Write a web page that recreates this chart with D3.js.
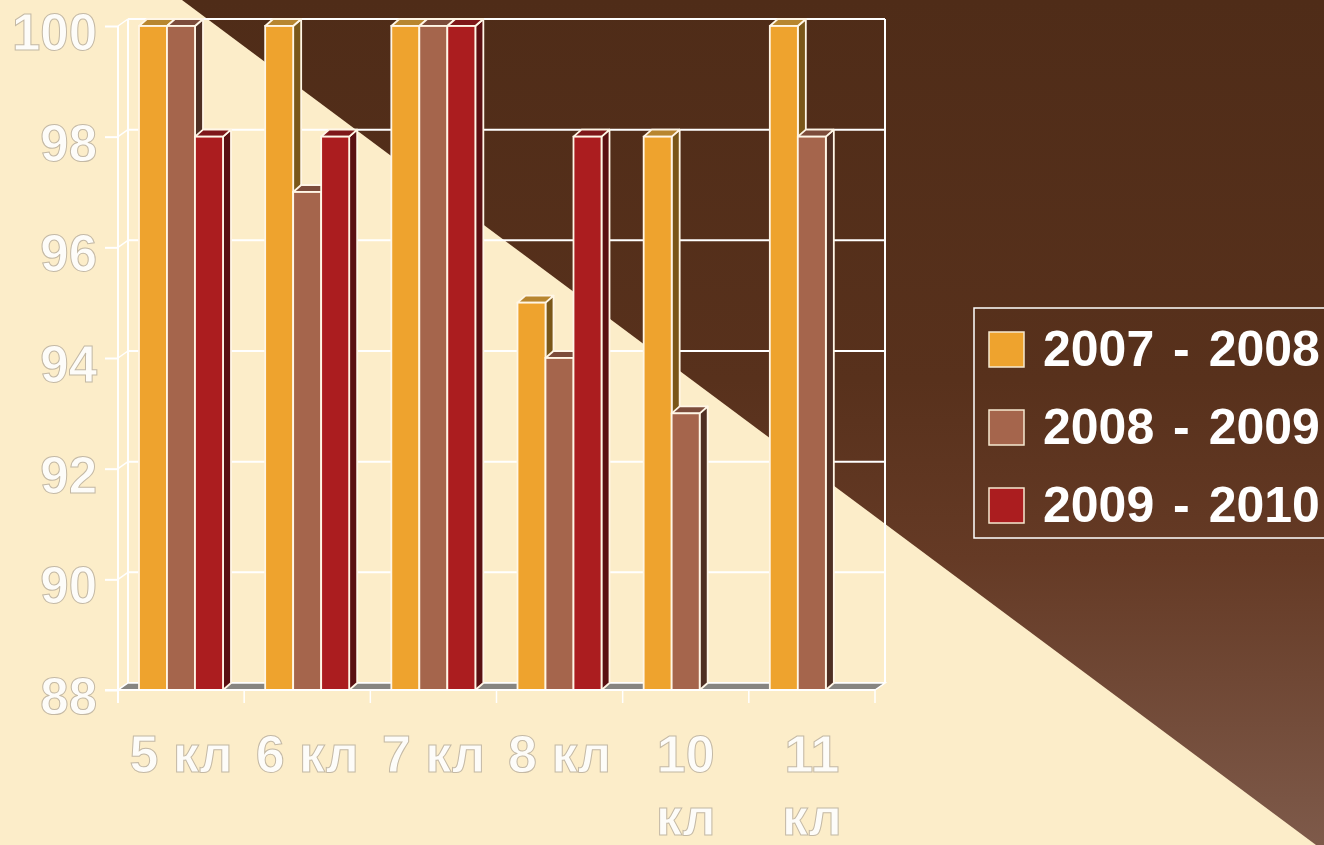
<!DOCTYPE html>
<html>
<head>
<meta charset="utf-8">
<script src="https://cdn.jsdelivr.net/npm/d3@7"></script>
<style>
    html, body { margin: 0; padding: 0; overflow: hidden; background: #fcedc9; }
    #chart { width: 1324px; height: 845px; }
    text { font-family: 'Liberation Sans', Arial, sans-serif; font-weight: bold; }
</style>
</head>
<body>
<div id="chart"></div>
<script>
// Chart data
const categories = ['5 кл', '6 кл', '7 кл', '8 кл', '10 кл', '11 кл'];
const seriesNames = ['2007 - 2008', '2008 - 2009', '2009 - 2010'];
const values2007 = [100, 100, 100, 95, 98, 100];
const values2008 = [100, 97, 100, 94, 93, 98];
const values2009 = [98, 98, 100, 98, null, null];
const yTicks = [88, 90, 92, 94, 96, 98, 100];

class BarChart3D {
    constructor() {
        this.width = 1324;
        this.height = 845;
        this.colors = {
            '2007 - 2008': { front: '#eea32e', top: '#b8862f', side: '#7a5719' },
            '2008 - 2009': { front: '#a5654c', top: '#7c4c3b', side: '#4f2f23' },
            '2009 - 2010': { front: '#ab1d1f', top: '#7e1719', side: '#5a1012' }
        };
        this.render();
    }

    render() {
        const svg = d3.select('#chart')
            .append('svg')
            .attr('width', this.width)
            .attr('height', this.height);

        this.drawBackground(svg);

        // Scales
        const x = d3.scaleBand().domain(categories).range([118, 875]);
        const xs = d3.scaleBand().domain(seriesNames).range([21, 21 + 3 * 28]);
        const y = d3.scaleLinear().domain([88, 100]).range([690, 26]);

        const wdx = 10, wdy = -7;   // wall depth
        const bdx = 8, bdy = -7;    // bar depth
        const left = x.range()[0], right = x.range()[1];
        const line = '#ffffff';

        // Back wall gridlines
        svg.append('g').selectAll('line')
            .data(yTicks)
            .enter()
            .append('line')
            .attr('x1', left + wdx)
            .attr('x2', right + wdx)
            .attr('y1', d => y(d) + wdy)
            .attr('y2', d => y(d) + wdy)
            .attr('stroke', line)
            .attr('stroke-width', 2);

        // Back wall right edge
        svg.append('line')
            .attr('x1', right + wdx).attr('x2', right + wdx)
            .attr('y1', y(100) + wdy).attr('y2', y(88) + wdy)
            .attr('stroke', line).attr('stroke-width', 2);

        // Side wall
        svg.append('line')
            .attr('x1', left + wdx).attr('x2', left + wdx)
            .attr('y1', y(100) + wdy).attr('y2', y(88) + wdy)
            .attr('stroke', line).attr('stroke-width', 2);
        svg.append('g').selectAll('line')
            .data(yTicks)
            .enter()
            .append('line')
            .attr('x1', left).attr('x2', left + wdx)
            .attr('y1', d => y(d)).attr('y2', d => y(d) + wdy)
            .attr('stroke', line).attr('stroke-width', 1.5);

        // Floor
        svg.append('path')
            .attr('d', `M${left},${y(88)} L${right},${y(88)} L${right + wdx},${y(88) + wdy} L${left + wdx},${y(88) + wdy} Z`)
            .attr('fill', '#878581')
            .attr('stroke', line)
            .attr('stroke-width', 1.5);

        // Bars
        const seriesValues = [values2007, values2008, values2009];
        const bars = [];
        categories.forEach((cat, ci) => {
            seriesNames.forEach((s, si) => {
                const v = seriesValues[si][ci];
                if (v == null) return;
                bars.push({ cat, series: s, value: v });
            });
        });

        const barGroups = svg.append('g').selectAll('g')
            .data(bars)
            .enter()
            .append('g');

        const bw = xs.bandwidth();
        const x0 = d => x(d.cat) + xs(d.series);
        const y0 = y(88);

        // Side face
        barGroups.append('path')
            .attr('d', d => {
                const xr = x0(d) + bw, yt = y(d.value);
                return `M${xr},${y0} L${xr},${yt} L${xr + bdx},${yt + bdy} L${xr + bdx},${y0 + bdy} Z`;
            })
            .attr('fill', d => this.colors[d.series].side)
            .attr('stroke', '#fff6e6')
            .attr('stroke-width', 1.8)
            .attr('stroke-linejoin', 'round');

        // Top face
        barGroups.append('path')
            .attr('d', d => {
                const xl = x0(d), yt = y(d.value);
                return `M${xl},${yt} L${xl + bw},${yt} L${xl + bw + bdx},${yt + bdy} L${xl + bdx},${yt + bdy} Z`;
            })
            .attr('fill', d => this.colors[d.series].top)
            .attr('stroke', '#fff6e6')
            .attr('stroke-width', 1.8)
            .attr('stroke-linejoin', 'round');

        // Front face
        barGroups.append('rect')
            .attr('x', d => x0(d))
            .attr('y', d => y(d.value))
            .attr('width', bw)
            .attr('height', d => y0 - y(d.value))
            .attr('fill', d => this.colors[d.series].front)
            .attr('stroke', '#fff6e6')
            .attr('stroke-width', 1.8);

        // Y axis
        const yAxis = svg.append('g')
            .attr('transform', `translate(${left},0)`)
            .call(d3.axisLeft(y).tickValues(yTicks).tickSize(13).tickSizeOuter(0).tickPadding(8));
        yAxis.select('.domain').remove();
        yAxis.selectAll('line').attr('stroke', line).attr('stroke-width', 2);
        yAxis.selectAll('text')
            .attr('dy', '0.46em')
            .style('font-size', '51px')
            .attr('fill', '#fdfcf9')
            .attr('stroke', '#c4b9a5')
            .attr('stroke-width', 1);
        svg.append('line')
            .attr('x1', left).attr('x2', left)
            .attr('y1', y(100)).attr('y2', y(88) + 13)
            .attr('stroke', line).attr('stroke-width', 2);

        // X axis baseline and boundary ticks
        svg.append('line')
            .attr('x1', left - 13).attr('x2', right)
            .attr('y1', y0).attr('y2', y0)
            .attr('stroke', line).attr('stroke-width', 2);
        const bounds = categories.map(c => x(c)).concat([right]);
        svg.append('g').selectAll('line')
            .data(bounds)
            .enter()
            .append('line')
            .attr('x1', d => d).attr('x2', d => d)
            .attr('y1', y0).attr('y2', y0 + 13)
            .attr('stroke', line).attr('stroke-width', 1.5);

        // X labels (wrap the ones wider than their band)
        const xAxis = svg.append('g')
            .attr('transform', `translate(0,${y0})`)
            .call(d3.axisBottom(x).tickSize(0).tickPadding(45));
        xAxis.select('.domain').remove();
        xAxis.selectAll('text')
            .style('font-size', '52px')
            .attr('fill', '#fdfcf9')
            .attr('stroke', '#c4b9a5')
            .attr('stroke-width', 1)
            .each(function (d) {
                const t = d3.select(this);
                if (this.getComputedTextLength() > x.bandwidth() - 4) {
                    const words = d.split(' ');
                    t.text(null);
                    words.forEach((w, i) => {
                        t.append('tspan')
                            .attr('x', 0)
                            .attr('dy', i === 0 ? '0.71em' : 63)
                            .text(w);
                    });
                }
            });

        this.drawLegend(svg);
    }

    drawBackground(svg) {
        const grad = svg.append('defs')
            .append('linearGradient')
            .attr('id', 'bgGrad')
            .attr('x1', 0).attr('y1', 0).attr('x2', 0).attr('y2', 1);
        grad.append('stop').attr('offset', '0%').attr('stop-color', '#4f2c18');
        grad.append('stop').attr('offset', '45%').attr('stop-color', '#58311c');
        grad.append('stop').attr('offset', '66%').attr('stop-color', '#653a25');
        grad.append('stop').attr('offset', '100%').attr('stop-color', '#7e5a4a');

        svg.append('rect')
            .attr('width', this.width)
            .attr('height', this.height)
            .attr('fill', '#fcedc9');

        svg.append('path')
            .attr('d', 'M182,0 L1324,0 L1324,845 L1316,845 Z')
            .attr('fill', 'url(#bgGrad)');
    }

    drawLegend(svg) {
        const legend = svg.append('g').attr('transform', 'translate(974,308)');

        legend.append('rect')
            .attr('width', 420)
            .attr('height', 230)
            .attr('fill', 'none')
            .attr('stroke', '#ffffff')
            .attr('stroke-width', 1.5);

        const items = legend.selectAll('.item')
            .data(seriesNames)
            .enter()
            .append('g')
            .attr('class', 'item')
            .attr('transform', (d, i) => `translate(15,${24 + i * 78})`);

        items.append('rect')
            .attr('width', 35)
            .attr('height', 35)
            .attr('fill', d => this.colors[d].front)
            .attr('stroke', '#f6e9d0')
            .attr('stroke-width', 1.5);

        items.append('text')
            .attr('x', 54)
            .attr('y', 34)
            .style('font-size', '50px')
            .style('word-spacing', '5px')
            .attr('fill', '#ffffff')
            .text(d => d);
    }
}

new BarChart3D();
</script>
</body>
</html>
